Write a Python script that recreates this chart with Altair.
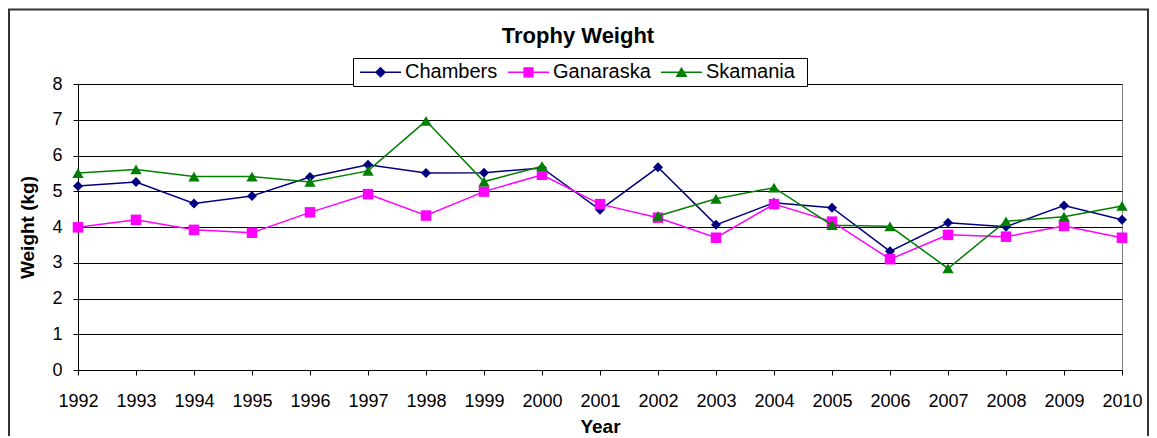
import altair as alt
import pandas as pd

FONT = "Liberation Sans, Arial, Helvetica, sans-serif"

chart_title = "Trophy Weight"
x_title = "Year"
y_title = "Weight (kg)"

years = [1992, 1993, 1994, 1995, 1996, 1997, 1998, 1999, 2000, 2001,
         2002, 2003, 2004, 2005, 2006, 2007, 2008, 2009, 2010]
y_ticks = [0, 1, 2, 3, 4, 5, 6, 7, 8]

chambers = [5.15, 5.26, 4.66, 4.87, 5.40, 5.74, 5.51, 5.52, 5.65, 4.48,
            5.67, 4.06, 4.68, 4.54, 3.32, 4.12, 4.01, 4.60, 4.20]
ganaraska = [3.99, 4.20, 3.92, 3.84, 4.41, 4.92, 4.32, 4.99, 5.46, 4.64,
             4.26, 3.70, 4.64, 4.15, 3.10, 3.78, 3.73, 4.03, 3.70]
skamania = [5.51, 5.61, 5.41, 5.41, 5.26, 5.57, 6.97, 5.27, 5.70, None,
            4.31, 4.79, 5.10, 4.05, 4.02, 2.84, 4.16, 4.29, 4.59]

series_names = ["Chambers", "Ganaraska", "Skamania"]
series_values = [chambers, ganaraska, skamania]
series_colors = ["#000080", "#FF00FF", "#008000"]
marker_shapes = ["diamond", "square", "triangle-up"]
marker_sizes = [100, 110, 128]
# legend symbols: a short line with the marker in the middle
legend_paths = [
    "M-1,-0.037H1V0.037H-1Z M0,-0.27L0.27,0L0,0.27L-0.27,0Z",
    "M-1,-0.037H1V0.037H-1Z M-0.25,-0.25H0.25V0.25H-0.25Z",
    "M-1,-0.037H1V0.037H-1Z M0,-0.27L0.29,0.23H-0.29Z",
]

rows = []
for name, vals in zip(series_names, series_values):
    for yr, v in zip(years, vals):
        rows.append({"Year": yr, "Weight": v, "Series": name})
df = pd.DataFrame(rows)

x_enc = alt.X(
    "Year:Q",
    scale=alt.Scale(domain=[years[0], years[-1]], nice=False, zero=False),
    axis=alt.Axis(values=years, format="d", grid=False, title=x_title,
                  labelPadding=17, labelOverlap=False, labelFlush=False, labelBound=False,
                  titleX=522, titleY=56, titleBaseline="middle", titleAlign="center"),
)
y_enc = alt.Y(
    "Weight:Q",
    scale=alt.Scale(domain=[0, 8], nice=False),
    axis=alt.Axis(values=y_ticks, format="d", grid=True, title=y_title,
                  labelPadding=11, labelOverlap=False, labelFlush=False,
                  titleX=-51, titleY=143, titleAngle=270,
                  titleBaseline="middle", titleAlign="center"),
)

base = alt.Chart(df)
series_layers = []
for name, color, shape, size in zip(series_names, series_colors, marker_shapes, marker_sizes):
    sub = base.transform_filter(alt.datum.Series == name)
    series_layers.append(
        sub.mark_line(color=color, strokeWidth=1.5).encode(x=x_enc, y=y_enc)
    )
    series_layers.append(
        sub.mark_point(shape=shape, size=size, filled=True, color=color, opacity=1,
                       strokeWidth=0).encode(x=x_enc, y=y_enc)
    )

leg = alt.Legend(
    title=None, orient="none", legendX=282, legendY=-32.5, direction="horizontal",
    columns=3, symbolSize=1681, symbolStrokeWidth=0, labelFont=FONT,
    labelFontSize=20, labelColor="black", columnPadding=10, labelOffset=4,
    padding=0,
)
legend_layer = alt.Chart(df).transform_filter("false").mark_point(
    filled=True, opacity=1
).encode(
    color=alt.Color("Series:N", scale=alt.Scale(domain=series_names, range=series_colors), legend=leg),
    shape=alt.Shape("Series:N", scale=alt.Scale(domain=series_names, range=legend_paths), legend=leg),
)

one = pd.DataFrame({"t": [chart_title]})
border = alt.Chart(one).mark_rect(fill="transparent", stroke="#333333", strokeWidth=2).encode(
    x=alt.value(-69), x2=alt.value(1070), y=alt.value(-74.5), y2=alt.value(400)
)
legend_box = alt.Chart(one).mark_rect(fill="white", stroke="black", strokeWidth=1).encode(
    x=alt.value(275.5), x2=alt.value(729.5), y=alt.value(-25.5), y2=alt.value(2.5)
)
title_layer = alt.Chart(one).mark_text(
    font=FONT, fontSize=22, fontWeight="bold", color="black", baseline="middle", align="center"
).encode(text="t:N", x=alt.value(500), y=alt.value(-48))

chart = alt.layer(border, *series_layers, legend_box, legend_layer, title_layer).properties(
    width=1044,
    height=286,
    autosize=alt.AutoSizeParams(type="none"),
    padding={"left": 70, "top": 76, "right": 27, "bottom": 66},
).configure_view(
    stroke="#808080", strokeWidth=1
).configure_axis(
    labelFont=FONT, labelFontSize=18, labelColor="black",
    titleFont=FONT, titleFontSize=19, titleFontWeight="bold", titleColor="black",
    domainColor="black", domainWidth=1, tickColor="black", tickSize=5, tickWidth=1,
    gridColor="black", gridWidth=1,
)

chart.save("out.html", embed_options={"renderer": "svg", "actions": False})
